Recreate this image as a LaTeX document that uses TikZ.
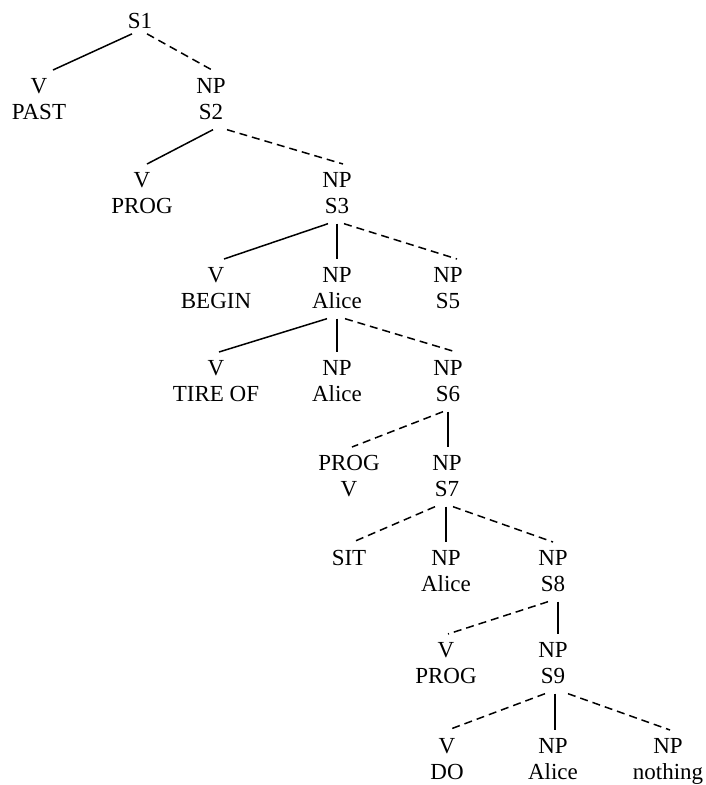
\documentclass[tikz,border=0pt]{standalone}
\usepackage{fontspec}
\setmainfont{Liberation Serif}
\tikzset{
  lbl/.style={anchor=north, inner sep=0pt, align=center, font=\fontsize{23}{26}\selectfont},
  solidedge/.style={line width=1.5pt},
  dashedge/.style={line width=1.5pt, dash pattern=on 8pt off 5pt},
}
\newcommand\edgeln[5]{\draw[#1] ([xshift=#3pt,yshift=-10pt]#2.south) -- ([xshift=#5pt,yshift=8pt]#4.north);}
\begin{document}
\begin{tikzpicture}[x=1pt,y=-1pt]
\useasboundingbox (0,0) rectangle (705,785);
% nodes
\node[lbl] (s1) at (140,13) {S1};
\node[lbl] (n1a) at (39,78) {V\\PAST};
\node[lbl] (n1b) at (211,78) {NP\\S2};
\node[lbl] (n2a) at (142,172) {V\\PROG};
\node[lbl] (n2b) at (337,172) {NP\\S3};
\node[lbl] (n3a) at (216,267) {V\\BEGIN};
\node[lbl] (n3b) at (337,267) {NP\\Alice};
\node[lbl] (n3c) at (448,267) {NP\\S5};
\node[lbl] (n4a) at (216,360) {V\\TIRE OF};
\node[lbl] (n4b) at (337,360) {NP\\Alice};
\node[lbl] (n4c) at (448,360) {NP\\S6};
\node[lbl] (n5a) at (349,455) {PROG\\V};
\node[lbl] (n5b) at (447,455) {NP\\S7};
\node[lbl] (n6a) at (349,550) {SIT};
\node[lbl] (n6b) at (446,550) {NP\\Alice};
\node[lbl] (n6c) at (553,550) {NP\\S8};
\node[lbl] (n7a) at (446,642) {V\\PROG};
\node[lbl] (n7b) at (553,642) {NP\\S9};
\node[lbl] (n8a) at (447,738) {V\\DO};
\node[lbl] (n8b) at (553,738) {NP\\Alice};
\node[lbl] (n8c) at (668,738) {NP\\nothing};
% edges
\draw[solidedge] ([xshift=-8pt,yshift=-5pt]s1.south) -- ([xshift=14pt,yshift=8pt]n1a.north);
\draw[dashedge] ([xshift=7pt,yshift=-5pt]s1.south) -- ([xshift=1pt,yshift=8pt]n1b.north);
\edgeln{solidedge}{n1b}{2}{n2a}{5}
\edgeln{dashedge}{n1b}{16}{n2b}{6}
\edgeln{solidedge}{n2b}{-9}{n3a}{8}
\edgeln{solidedge}{n2b}{0}{n3b}{0}
\edgeln{dashedge}{n2b}{7}{n3c}{9}
\edgeln{solidedge}{n3b}{-10}{n4a}{3}
\edgeln{solidedge}{n3b}{0}{n4b}{0}
\edgeln{dashedge}{n3b}{8}{n4c}{8}
\edgeln{dashedge}{n4c}{-5}{n5a}{3}
\edgeln{solidedge}{n4c}{0}{n5b}{1}
\edgeln{dashedge}{n5b}{-12}{n6a}{4}
\edgeln{solidedge}{n5b}{-1}{n6b}{0}
\edgeln{dashedge}{n5b}{6}{n6c}{0}
\edgeln{dashedge}{n6c}{-5}{n7a}{2}
\edgeln{solidedge}{n6c}{5}{n7b}{5}
\edgeln{dashedge}{n7b}{-8}{n8a}{1}
\edgeln{solidedge}{n7b}{2}{n8b}{2}
\edgeln{dashedge}{n7b}{15}{n8c}{2}
\end{tikzpicture}
\end{document}
